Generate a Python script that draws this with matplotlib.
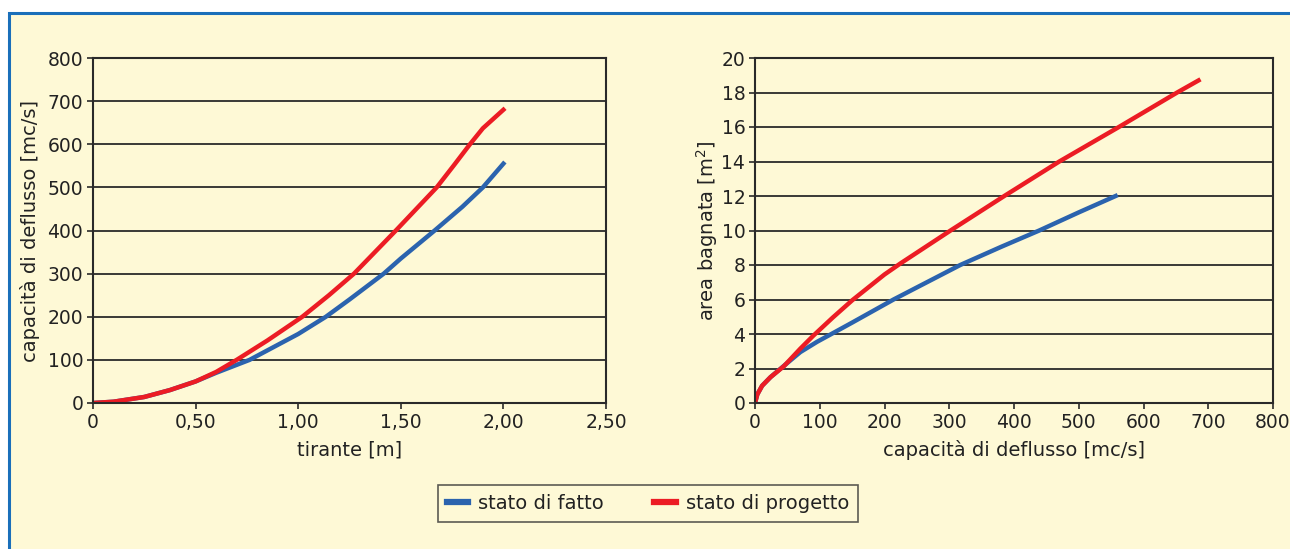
import matplotlib
matplotlib.use('Agg')
import matplotlib.pyplot as plt
from matplotlib.patches import Rectangle
from matplotlib.ticker import FuncFormatter

plt.rcParams['font.family'] = ['DejaVu Sans']

# grafico sinistro: capacità di deflusso in funzione del tirante
h_fatto = [0, 0.1, 0.25, 0.375, 0.5, 0.6, 0.763, 1.0, 1.135, 1.25, 1.417, 1.5, 1.665, 1.8, 1.9, 2.0]
q_fatto = [0, 3, 14, 30, 50, 70, 100, 160, 200, 240, 300, 335, 400, 455, 500, 555]
h_prog = [0, 0.1, 0.25, 0.375, 0.5, 0.6, 0.70, 0.85, 1.02, 1.15, 1.272, 1.476, 1.675, 1.76, 1.837, 1.9, 2.0]
q_prog = [0, 3, 14, 30, 50, 72, 100, 145, 200, 250, 300, 400, 500, 552, 600, 637, 680]

# grafico destro: area bagnata in funzione della capacità di deflusso
qa_fatto = [0, 3.6, 11, 24, 44.5, 70, 96, 117, 150, 214, 250, 317, 380, 439, 500, 557]
a_fatto = [0, 0.5, 1.0, 1.5, 2.15, 2.95, 3.55, 3.98, 4.66, 6.0, 6.7, 8.0, 9.05, 10.0, 11.05, 12.0]
qa_prog = [0, 3.6, 11, 24, 44.5, 70, 90, 120, 150, 200, 225, 302, 385, 470, 562, 652, 685]
a_prog = [0, 0.5, 1.0, 1.5, 2.13, 3.15, 3.9, 4.95, 5.95, 7.45, 8.1, 10, 12, 14, 16, 18, 18.7]

serie = ['stato di fatto', 'stato di progetto']
blu = '#2b63ae'
rosso = '#ec1c24'
crema = '#fef9d6'
scuro = '#2a2a2a'

fig = plt.figure(figsize=(12.9, 5.49), dpi=100, facecolor='white')
# cornice blu con sfondo crema
fig.patches.append(Rectangle((9/1290, -0.05), 1.1, (549-13)/549 + 0.05,
                             transform=fig.transFigure, facecolor=crema,
                             edgecolor='#1a6fba', linewidth=2.2, zorder=-10))

ax1 = fig.add_axes([93/1290, 146/549, 513/1290, 345/549])
ax2 = fig.add_axes([755/1290, 146/549, 518/1290, 345/549])

def stile(ax):
    ax.set_facecolor(crema)
    for s in ax.spines.values():
        s.set_color(scuro)
        s.set_linewidth(1.5)
    ax.grid(axis='y', color=scuro, linewidth=1.3)
    ax.set_axisbelow(True)
    ax.tick_params(labelsize=13.5, length=4, width=1.2, color=scuro,
                   labelcolor='#222222', pad=3)

ax1.plot(h_fatto, q_fatto, color=blu, linewidth=3.2, label=serie[0])
ax1.plot(h_prog, q_prog, color=rosso, linewidth=3.2, label=serie[1])
ax1.set_xlim(0, 2.5)
ax1.set_ylim(0, 800)
ax1.set_xticks([0, 0.5, 1.0, 1.5, 2.0, 2.5])
ax1.set_yticks(range(0, 801, 100))
ax1.xaxis.set_major_formatter(FuncFormatter(
    lambda v, p: '0' if v == 0 else ('%.2f' % v).replace('.', ',')))
ax1.set_xlabel('tirante [m]', fontsize=14, color='#222222', labelpad=6)
ax1.set_ylabel('capacità di deflusso [mc/s]', fontsize=14, color='#222222', labelpad=5.5)
stile(ax1)

ax2.plot(qa_fatto, a_fatto, color=blu, linewidth=3.2)
ax2.plot(qa_prog, a_prog, color=rosso, linewidth=3.2)
ax2.set_xlim(0, 800)
ax2.set_ylim(0, 20)
ax2.set_xticks(range(0, 801, 100))
ax2.set_yticks(range(0, 21, 2))
ax2.set_xlabel('capacità di deflusso [mc/s]', fontsize=14, color='#222222', labelpad=6)
ax2.set_ylabel('area bagnata [m$^2$]', fontsize=14, color='#222222', labelpad=1)
stile(ax2)

h, l = ax1.get_legend_handles_labels()
leg = fig.legend(h, l, loc='center', bbox_to_anchor=(648/1290, 45.5/549), ncol=2,
                 fontsize=14, frameon=True, fancybox=False, handlelength=1.1,
                 columnspacing=2.6, handletextpad=0.5, borderpad=0.45)
leg.get_frame().set_edgecolor('#333333')
leg.get_frame().set_linewidth(1.2)
leg.get_frame().set_facecolor(crema)
for t in leg.get_texts():
    t.set_color('#222222')
for ln in leg.get_lines():
    ln.set_linewidth(4.5)

plt.savefig('out.png', dpi=100, facecolor='white')
